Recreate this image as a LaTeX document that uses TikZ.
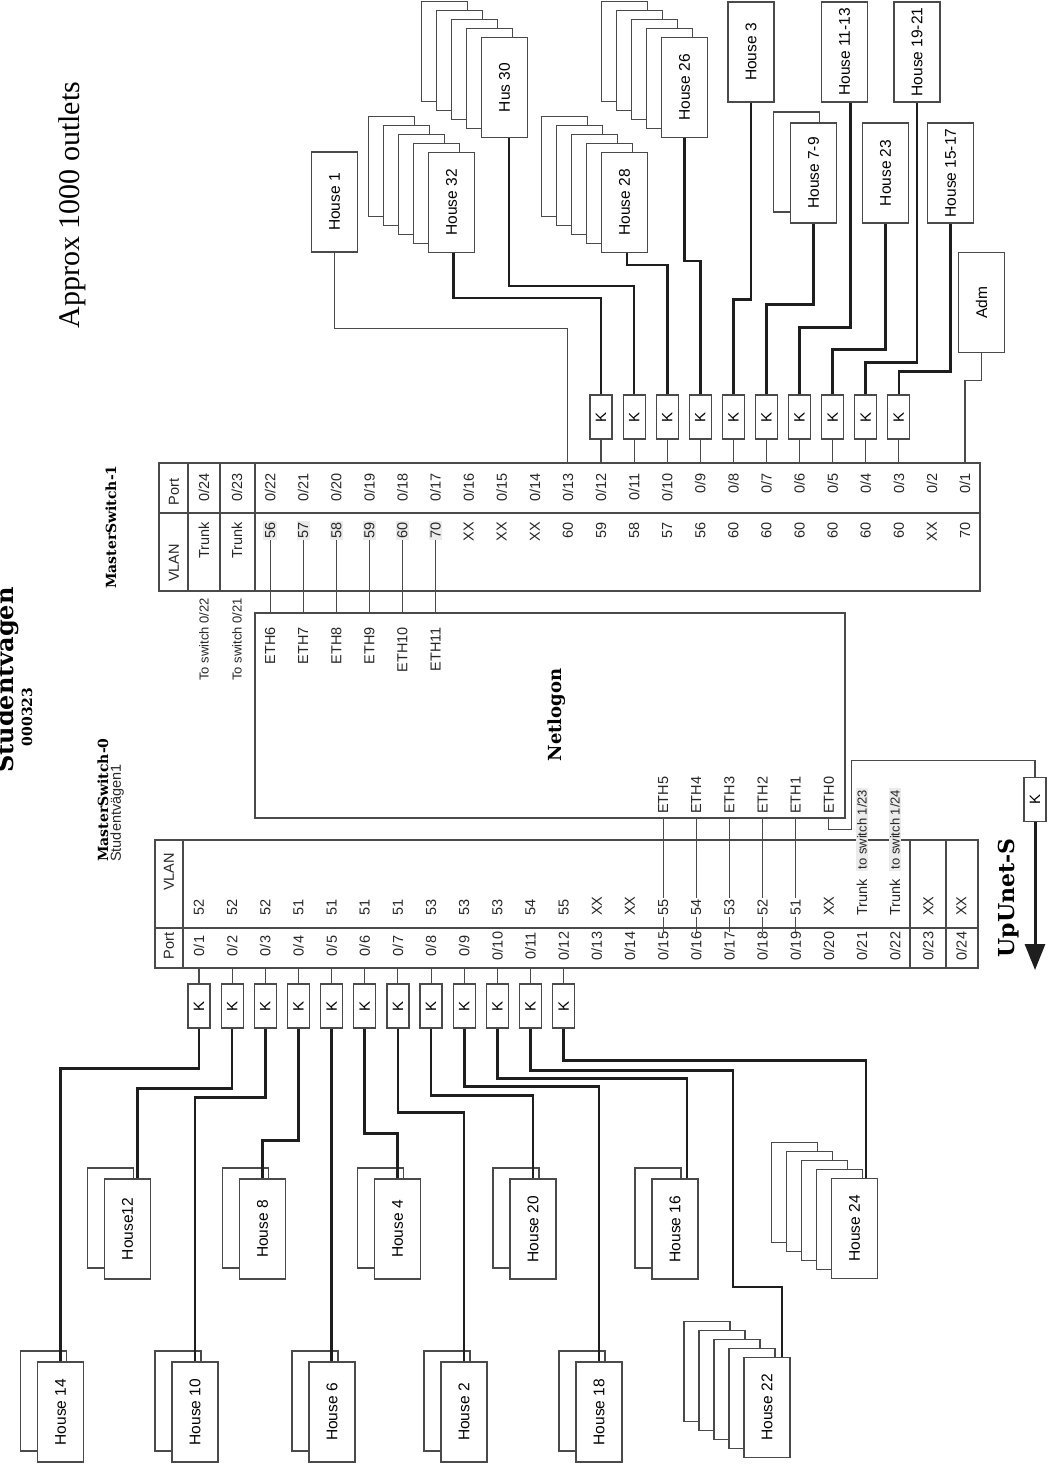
\documentclass[tikz,border=0pt]{standalone}
\usepackage{fontspec}
\setmainfont{Liberation Serif}
\newfontfamily\arialfont{Liberation Sans}
\newfontfamily\boldserif{DejaVu Serif Bold}
\usetikzlibrary{arrows.meta}
\definecolor{linegray}{HTML}{4A4A4A}
\definecolor{wireblack}{HTML}{1E1E1E}
\definecolor{cellshade}{HTML}{EBEBEB}
\newcommand{\vtext}[1]{\rotatebox{90}{#1}}

\begin{document}
\begin{tikzpicture}[x=1pt, y=-1pt,
  house/.style={draw=linegray, fill=white, line width=1.2pt, minimum width=46pt, minimum height=100pt, inner sep=0pt, font=\arialfont\fontsize{15.5}{18}\selectfont},
  kbox/.style={draw=linegray, fill=white, line width=1.2pt, minimum width=22pt, minimum height=44pt, inner sep=0pt, font=\arialfont\fontsize{15}{18}\selectfont},
  cell/.style={inner sep=0pt, text=black!85, font=\arialfont\fontsize{14.5}{17}\selectfont},
  smallcell/.style={cell, font=\arialfont\fontsize{13}{15}\selectfont},
  grid/.style={draw=linegray, line width=1.2pt},
  wire/.style={draw=wireblack, line width=2.6pt},
  thinwire/.style={draw=linegray, line width=1.1pt},
  head/.style={inner sep=0pt, font=\boldserif\fontsize{14}{16}\selectfont}]

  \useasboundingbox (0,0) rectangle (1053,1466);

  % titles
  \node[anchor=east, inner sep=0pt, font=\boldserif\fontsize{24}{28}\selectfont] (title) at (19,680) {\vtext{Studentvägen}};
  \node[head] (date) at (27,717) {\vtext{000323}};
  \node[inner sep=0pt, font=\fontsize{30}{34}\selectfont] (outlets) at (72,205) {\vtext{Approx 1000 outlets}};

  % Netlogon
  \node[grid, minimum width=590pt, minimum height=205pt, inner sep=0pt] (netlogon) at (550,715.5) {};
  \node[head, font=\boldserif\fontsize{18}{20}\selectfont] (netlabel) at (557,715) {\vtext{Netlogon}};

  % MasterSwitch-1
  \node[head] (ms1label) at (111,527) {\vtext{MasterSwitch-1}};
  \node[grid, minimum width=821pt, minimum height=128pt, inner sep=0pt] (ms1) at (569.5,527) {};
  \draw[grid] (159,513) -- (980,513);
  \foreach \x in {188,220,255} \draw[grid] (\x,463) -- (\x,591);
  \node[cell] (porta) at (174,492) {\vtext{Port}};
  \node[cell] (vlana) at (174,563) {\vtext{VLAN}};
  \foreach \p/\v in {24/Trunk,23/Trunk,16/XX,15/XX,14/XX,13/60,12/59,11/58,10/57,9/56,8/60,7/60,6/60,5/60,4/60,3/60,2/XX,1/70} {
    \node[cell, anchor=north] (pa\p) at ({965-(\p-1)*33.09},473) {\vtext{0/\p}};
    \node[cell, anchor=north] (va\p) at ({965-(\p-1)*33.09},522) {\vtext{\v}};
  }
  \foreach \p/\v/\e in {22/56/6,21/57/7,20/58/8,19/59/9,18/60/10,17/70/11} {
    \node[cell, anchor=north] (pa\p) at ({965-(\p-1)*33.09},473) {\vtext{0/\p}};
    \node[cell, anchor=north, fill=cellshade, inner sep=1.5pt] (va\p) at ({965-(\p-1)*33.09},520.5) {\vtext{\v}};
    \node[cell, anchor=north] (eth\e) at ({965-(\p-1)*33.09},627) {\vtext{ETH\e}};
    \draw[thinwire] (va\p.south) -- (va\p.south |- netlogon.north);
  }
  \node[smallcell, anchor=north] (to24) at (204,598) {\vtext{To switch 0/22}};
  \node[smallcell, anchor=north] (to23) at (237,598) {\vtext{To switch 0/21}};

  % MasterSwitch-0
  \node[head, anchor=south] (ms0label) at (103,862) {\vtext{MasterSwitch-0}};
  \node[cell, anchor=south] (ms0place) at (117,862) {\vtext{Studentvägen1}};
  \node[grid, minimum width=823pt, minimum height=128pt, inner sep=0pt] (ms0) at (566.5,904) {};
  \draw[grid] (155,928) -- (978,928);
  \foreach \x in {183,910,946} \draw[grid] (\x,840) -- (\x,968);
  \node[cell] (portb) at (169,946) {\vtext{Port}};
  \node[cell] (vlanb) at (169,872) {\vtext{VLAN}};
  \foreach \p in {1,...,24}
    \node[cell] (pb\p) at ({199+(\p-1)*33.15},946) {\vtext{0/\p}};
  \foreach \p/\e in {15/5,16/4,17/3,18/2,19/1,20/0}
    \node[cell, anchor=south] (eth\e) at ({199+(\p-1)*33.15},814) {\vtext{ETH\e}};
  \foreach \p/\e in {15/5,16/4,17/3,18/2,19/1}
    \draw[thinwire] (eth\e |- netlogon.south) -- (pb\p.north);
  \foreach \p/\v in {1/52,2/52,3/52,4/51,5/51,6/51,7/51,8/53,9/53,10/53,11/54,12/55,13/XX,14/XX,15/55,16/54,17/53,18/52,19/51,20/XX,23/XX,24/XX}
    \node[cell, anchor=south, fill=white, inner sep=1.5pt] (vb\p) at ({199+(\p-1)*33.15},917.5) {\vtext{\v}};
  \node[cell, anchor=south] (tr21) at (862,916) {\vtext{Trunk}};
  \node[smallcell, anchor=south, fill=cellshade, inner sep=1.5pt] (sw21) at (862,871) {\vtext{to switch 1/23}};
  \node[cell, anchor=south] (tr22) at (895,916) {\vtext{Trunk}};
  \node[smallcell, anchor=south, fill=cellshade, inner sep=1.5pt] (sw22) at (895,871) {\vtext{to switch 1/24}};

  % uplink
  \node[kbox] (kup) at (1035,799.5) {\vtext{K}};
  \coordinate (upunet) at (1035,970);
  \draw[thinwire] (eth0 |- netlogon.south) -- ++(0,11) -- ++(23,0) -- ++(0,-69) -| (kup.north);
  \draw[draw=wireblack, line width=3pt, -{Triangle[length=26pt,width=20pt]}] (kup.south) -- (upunet);
  \node[head, font=\boldserif\fontsize{22}{24}\selectfont] (uplabel) at (1009,898) {\vtext{UpUnet-S}};

  % upper K boxes
  \foreach \p in {12,...,3} {
    \node[kbox] (ka\p) at ({965-(\p-1)*33.09},417) {\vtext{K}};
    \draw[thinwire] (ka\p.south) -- (ka\p.south |- ms1.north);
  }

  % upper houses
  \foreach \i in {4,...,1} {
    \node[house] at ({504.5-15*\i},{87.5-9*\i}) {};
    \node[house] at ({684.5-15*\i},{87.5-9*\i}) {};
    \node[house] at ({451.5-15*\i},{202.5-9*\i}) {};
    \node[house] at ({624.5-15*\i},{202.5-9*\i}) {};
  }
  \node[house] (h30) at (504.5,87.5) {\vtext{Hus 30}};
  \node[house] (h26) at (684.5,87.5) {\vtext{House 26}};
  \node[house] (h32) at (451.5,202.5) {\vtext{House 32}};
  \node[house] (h28) at (624.5,202.5) {\vtext{House 28}};
  \node[house] (h1) at (334.5,202) {\vtext{House 1}};
  \node[house] (h3) at (751,52) {\vtext{House 3}};
  \node[house] at (796.5,162) {};
  \node[house] (h79) at (813.5,173) {\vtext{House 7-9}};
  \node[house] (h1113) at (844.5,52) {\vtext{House 11-13}};
  \node[house] (h23) at (885.5,173) {\vtext{House 23}};
  \node[house] (h1921) at (917,52) {\vtext{House 19-21}};
  \node[house] (h1517) at (950.5,173) {\vtext{House 15-17}};
  \node[house] (adm) at (981.5,302.5) {\vtext{Adm}};

  \draw[thinwire] (h1.south) -- ++(0,76) -| (pa13.north |- ms1.north);
  \draw[wire] ([xshift=2pt]h32.south) -- ++(0,45) -| (ka12.north);
  \draw[wire] ([xshift=4.5pt]h30.south) -- ++(0,148) -| (ka11.north);
  \draw[wire] ([xshift=2.5pt]h28.south) -- ++(0,12) -| (ka10.north);
  \draw[wire] (h26.south) -- ++(0,123) -| (ka9.north);
  \draw[wire] (h3.south) -- ++(0,197) -| (ka8.north);
  \draw[wire] (h79.south) -- ++(0,81) -| (ka7.north);
  \draw[wire] ([xshift=6pt]h1113.south) -- ++(0,225) -| (ka6.north);
  \draw[wire] (h23.south) -- ++(0,126) -| (ka5.north);
  \draw[wire] (h1921.south) -- ++(0,260) -| (ka4.north);
  \draw[wire] (h1517.south) -- ++(0,148) -| (ka3.north);
  \draw[thinwire] (adm.south) -- ++(0,27) -| (pa1.north |- ms1.north);

  % lower K boxes
  \foreach \p in {1,...,12} {
    \node[kbox] (kb\p) at ({199+(\p-1)*33.15},1006) {\vtext{K}};
    \draw[thinwire] (kb\p.north) -- (kb\p.north |- ms0.south);
  }

  % lower houses
  \foreach \n/\x/\y/\t in {h14/60.5/1412/House 14,h10/195/1412/House 10,h6/332/1412/House 6,h2/464/1412/House 2,h18/599/1412/House 18,h12/127.5/1229/House12,h8/262.5/1229/House 8,h4/397.5/1229/House 4,h20/533/1229/House 20,h16/675/1229/House 16} {
    \node[house] at ({\x-17},{\y-11}) {};
    \node[house] (\n) at (\x,\y) {\vtext{\t}};
  }
  \foreach \i in {4,...,1} {
    \node[house] at ({767-15*\i},{1407.5-9*\i}) {};
    \node[house] at ({854.5-15*\i},{1228.5-9*\i}) {};
  }
  \node[house] (h22) at (767,1407.5) {\vtext{House 22}};
  \node[house] (h24) at (854.5,1228.5) {\vtext{House 24}};
  \coordinate (bend22) at (733,1287);

  \draw[wire] (kb1.south) -- ++(0,40) -| (h14.north);
  \draw[wire] (kb2.south) -- ++(0,60) -| ([xshift=10pt]h12.north);
  \draw[wire] (kb3.south) -- ++(0,69) -| (h10.north);
  \draw[wire] (kb4.south) -- ++(0,112) -| (h8.north);
  \draw[wire] (kb5.south) -- (kb5.south |- h6.north);
  \draw[wire] (kb6.south) -- ++(0,105) -| (h4.north);
  \draw[wire] (kb7.south) -- ++(0,84) -| (h2.north);
  \draw[wire] (kb8.south) -- ++(0,67) -| (h20.north);
  \draw[wire] (kb9.south) -- ++(0,58) -| (h18.north);
  \draw[wire] (kb10.south) -- ++(0,50) -| ([xshift=12pt]h16.north);
  \draw[wire] (kb11.south) -- ++(0,42) -| (bend22) -| ([xshift=15pt]h22.north);
  \draw[wire] (kb12.south) -- ++(0,32) -| ([xshift=11.5pt]h24.north);
\end{tikzpicture}
\end{document}
